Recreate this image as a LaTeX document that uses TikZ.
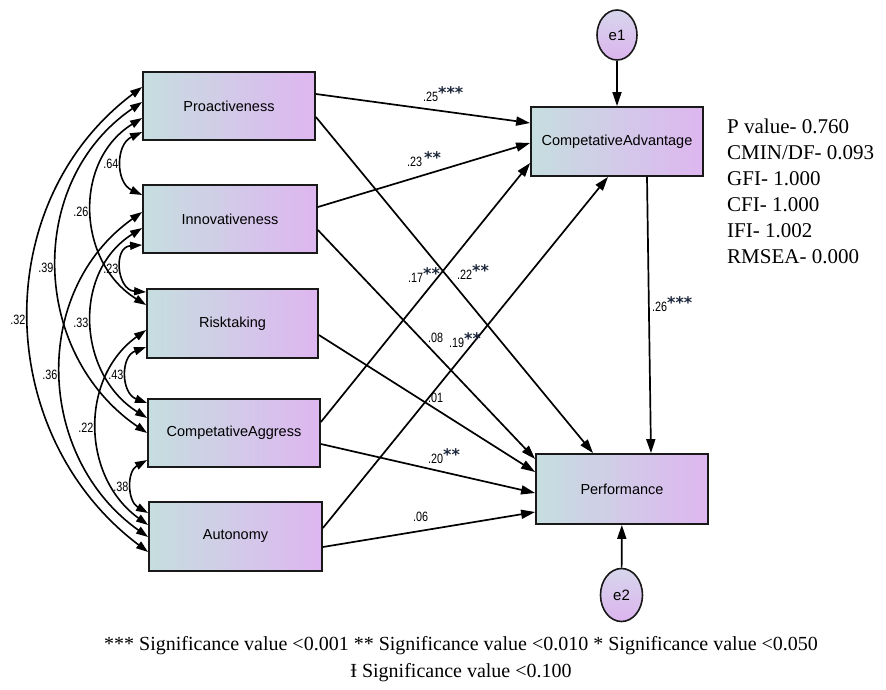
\documentclass[tikz,border=0pt]{standalone}
\usepackage{fontspec}
\setmainfont{Liberation Serif}
\setsansfont{Liberation Sans}
\newfontfamily\starfont{DejaVu Sans}
\usetikzlibrary{arrows.meta,shapes.geometric,calc}
\definecolor{boxL}{RGB}{198,222,224}
\definecolor{boxR}{RGB}{222,182,240}
\definecolor{errT}{RGB}{214,214,236}
\definecolor{errB}{RGB}{220,180,238}
\definecolor{starc}{RGB}{30,40,60}
\newcommand{\num}[1]{\scalebox{0.8}[1]{#1}}
\newcommand{\sg}[1]{{\starfont\bfseries\fontsize{16}{16}\selectfont\color{starc}\raisebox{3pt}{#1}}}
\tikzset{
  var/.style={rectangle, draw=black!90, line width=1.8pt, left color=boxL, right color=boxR,
    minimum width=#1, minimum height=68pt, inner sep=0pt,
    font=\sffamily\fontsize{14.5}{16}\selectfont},
  err/.style={ellipse, draw=black!90, line width=1.6pt, top color=errT, bottom color=errB,
    minimum width=40pt, minimum height=50pt, inner sep=0pt,
    font=\sffamily\fontsize{15}{16}\selectfont},
  reg/.style={draw, line width=1.7pt, -{Triangle[length=14pt,width=9pt]}},
  cov/.style={draw, line width=1.6pt, {Triangle[length=12pt,width=8pt]}-{Triangle[length=12pt,width=8pt]}},
  lab/.style={left, inner sep=3pt, font=\sffamily\fontsize{13.5}{14}\selectfont},
  coef/.style={anchor=base west, inner sep=0pt, font=\sffamily\fontsize{13.5}{14}\selectfont},
  stat/.style={anchor=base west, inner sep=0pt, font=\fontsize{21}{24}\selectfont},
  note/.style={anchor=base, inner sep=0pt, font=\fontsize{20}{22}\selectfont}
}
\begin{document}
\begin{tikzpicture}[x=1pt,y=1pt]
\fill[white] (0,0) rectangle (886,-689);
\useasboundingbox (0,0) rectangle (886,-689);

% variables
\node[var=172pt] (pro) at (229,-106) {Proactiveness};
\node[var=174pt] (inn) at (230,-219) {Innovativeness};
\node[var=171pt, minimum height=69pt] (risk) at (232.5,-323.5) {Risktaking};
\node[var=172pt] (agg) at (234,-433) {CompetativeAggress};
\node[var=173pt, minimum height=69pt] (aut) at (235.5,-536.5) {Autonomy};
\node[var=172pt, minimum height=69pt] (ca) at (617,-141.5) {CompetativeAdvantage};
\node[var=172pt, minimum height=70pt] (perf) at (622,-489) {Performance};
\node[err] (e1) at (617,-35) {e1};
\node[err, minimum width=42pt, minimum height=53pt] (e2) at (621.5,-595) {e2};

% regression paths
\draw[reg] ([yshift=12pt]pro.east) -- ([yshift=18.5pt]ca.west);
\draw[reg] ([yshift=12pt]inn.east) -- ([yshift=-1.5pt]ca.west);
\draw[reg] ([yshift=11pt]agg.east) -- ([yshift=-21.5pt]ca.west);
\draw[reg] ([yshift=8.5pt]aut.east) -- ([xshift=-9pt]ca.south);
\draw[reg] ([yshift=-11pt]pro.east) -- ([xshift=-29pt]perf.north);
\draw[reg] ([yshift=-11pt]inn.east) -- ([yshift=30pt]perf.west);
\draw[reg] ([yshift=-11.5pt]risk.east) -- ([yshift=17pt]perf.west);
\draw[reg] ([yshift=-11pt]agg.east) -- ([yshift=-4pt]perf.west);
\draw[reg] ([yshift=-10.5pt]aut.east) -- ([yshift=-23pt]perf.west);
\draw[reg] ([xshift=30pt]ca.south) -- ([xshift=29pt]perf.north);
\draw[reg] (e1) -- (ca);
\draw[reg] (e2) -- (perf);

% covariances
\draw[cov] ([yshift=19pt]pro.west) .. controls +(-154.7,-116.4) and +(-154.7,116.4) .. ([yshift=-15.5pt]aut.west) node[lab, midway] (k1) {\num{.32}};
\draw[cov] ([yshift=4pt]pro.west) .. controls +(-116.7,-79.5) and +(-116.7,79.5) .. ([yshift=0pt]agg.west) node[lab, midway] (k2) {\num{.39}};
\draw[cov] ([yshift=-12pt]pro.west) .. controls +(-69.3,-43.1) and +(-69.3,43.1) .. ([yshift=18.5pt]risk.west) node[lab, midway] (k3) {\num{.26}};
\draw[cov] ([yshift=-26pt]pro.west) .. controls +(-26.7,-12.5) and +(-26.7,12.5) .. ([yshift=24pt]inn.west) node[lab, midway] (k4) {\num{.64}};
\draw[cov] ([yshift=7pt]inn.west) .. controls +(-112,-79.4) and +(-112,79.4) .. ([yshift=-0.5pt]aut.west) node[lab, midway] (k5) {\num{.36}};
\draw[cov] ([yshift=-9pt]inn.west) .. controls +(-70,-44) and +(-70,44) .. ([yshift=15pt]agg.west) node[lab, midway] (k6) {\num{.33}};
\draw[cov] ([yshift=-26pt]inn.west) .. controls +(-29.3,-1.9) and +(-29.3,1.9) .. ([yshift=31.5pt]risk.west) node[lab, midway] (k7) {\num{.23}};
\draw[cov] ([yshift=-6.5pt]risk.west) .. controls +(-66.7,-47.9) and +(-66.7,47.9) .. ([yshift=11.5pt]aut.west) node[lab, midway] (k8) {\num{.22}};
\draw[cov] ([yshift=-23.5pt]risk.west) .. controls +(-26,-9.6) and +(-26,9.6) .. ([yshift=30pt]agg.west) node[lab, midway] (k9) {\num{.43}};
\draw[cov] ([yshift=-27pt]agg.west) .. controls +(-20.7,-11.6) and +(-20.7,11.6) .. ([yshift=23.5pt]aut.west) node[lab, midway] (k10) {\num{.38}};

% coefficients
\node[coef] (c1) at (423,-101.5) {\num{.25}\sg{***}};
\node[coef] (c2) at (407,-166) {\num{.23}\hspace{2pt}\sg{**}};
\node[coef] (c3) at (408,-282) {\num{.17}\sg{**}};
\node[coef] (c4) at (457,-279) {\num{.22}\sg{**}};
\node[coef] (c5) at (428,-342) {\num{.08}};
\node[coef] (c6) at (449,-347) {\num{.19}\sg{**}};
\node[coef] (c7) at (428,-402) {\num{.01}};
\node[coef] (c8) at (428,-463) {\num{.20}\sg{**}};
\node[coef] (c9) at (413,-521) {\num{.06}};
\node[coef] (c10) at (652,-311) {\num{.26}\sg{***}};

% fit statistics
\node[stat] (s1) at (727,-133) {P value- 0.760};
\node[stat] (s2) at (727,-159) {CMIN/DF- 0.093};
\node[stat] (s3) at (727,-185) {GFI- 1.000};
\node[stat] (s4) at (727,-211) {CFI- 1.000};
\node[stat] (s5) at (727,-237) {IFI- 1.002};
\node[stat] (s6) at (727,-263) {RMSEA- 0.000};

% notes
\node[note] (n1) at (461,-650) {*** Significance value <0.001 ** Significance value <0.010 * Significance value <0.050};
\node[note] (n2) at (461,-677) {Ɨ Significance value <0.100};
\end{tikzpicture}
\end{document}
